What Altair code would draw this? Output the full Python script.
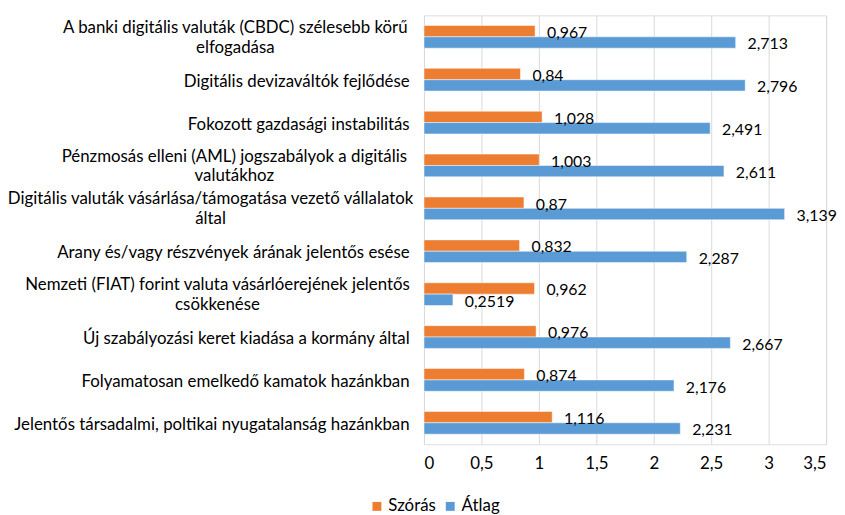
import altair as alt
import pandas as pd

categories = [
    "A banki digitális valuták (CBDC) szélesebb körű|elfogadása",
    "Digitális devizaváltók fejlődése",
    "Fokozott gazdasági instabilitás",
    "Pénzmosás elleni (AML) jogszabályok a digitális|valutákhoz",
    "Digitális valuták vásárlása/támogatása vezető vállalatok|által",
    "Arany és/vagy részvények árának jelentős esése",
    "Nemzeti (FIAT) forint valuta vásárlóerejének jelentős|csökkenése",
    "Új szabályozási keret kiadása a kormány által",
    "Folyamatosan emelkedő kamatok hazánkban",
    "Jelentős társadalmi, poltikai nyugatalanság hazánkban",
]
szoras = [0.967, 0.84, 1.028, 1.003, 0.87, 0.832, 0.962, 0.976, 0.874, 1.116]
atlag = [2.713, 2.796, 2.491, 2.611, 3.139, 2.287, 0.2519, 2.667, 2.176, 2.231]
series = ["Szórás", "Átlag"]
colors = ["#ED7D31", "#5B9BD5"]
x_ticks = [0, 0.5, 1, 1.5, 2, 2.5, 3, 3.5]

rows = []
for c, s, a in zip(categories, szoras, atlag):
    rows.append({"cat": c, "series": "Szórás", "value": s})
    rows.append({"cat": c, "series": "Átlag", "value": a})
df = pd.DataFrame(rows)

FONT = "Lato"

pad_map = {
    categories[0]: 191,
    categories[3]: 192,
    categories[4]: 216,
    categories[6]: 209,
}
pad_cond = [{"test": f"datum.value === '{k}'", "value": v} for k, v in pad_map.items()]
wrapped_test = "indexof(datum.value, '|') >= 0"

y_enc = alt.Y(
    "cat:N",
    sort=categories,
    scale=alt.Scale(paddingInner=0.47, paddingOuter=0.235),
    axis=alt.Axis(
        title=None,
        ticks=False,
        domain=True,
        domainColor="#d9d9d9",
        labelFont=FONT,
        labelFontSize=17,
        labelColor="#000000",
        labelLineHeight=20,
        labelLimit=0,
        labelExpr="split(datum.label, '|')",
        labelAlign={"condition": {"test": wrapped_test, "value": "center"}, "value": "right"},
        labelPadding={"condition": pad_cond, "value": 15},
        labelOffset={"condition": {"test": wrapped_test, "value": -9}, "value": 2},
    ),
)

x_enc = alt.X(
    "value:Q",
    scale=alt.Scale(domain=[0, 3.5], nice=False),
    axis=alt.Axis(
        title=None,
        values=x_ticks,
        format=".1~f",
        labelExpr="replace(datum.label, '.', ',')",
        domain=False,
        ticks=False,
        grid=True,
        gridColor="#d9d9d9",
        gridWidth=1,
        labelFont=FONT,
        labelFontSize=17,
        labelColor="#000000",
        labelPadding=12,
    ),
)

color_enc = alt.Color(
    "series:N",
    scale=alt.Scale(domain=series, range=colors),
    legend=alt.Legend(
        title=None,
        orient="none",
        legendX=-56,
        legendY=487,
        direction="horizontal",
        symbolType="square",
        symbolSize=81,
        symbolStrokeWidth=0,
        labelFont=FONT,
        labelFontSize=17,
        labelColor="#000000",
        columnPadding=6,
        labelOffset=3,
    ),
)

yoff = alt.YOffset("series:N", sort=series, scale=alt.Scale(domain=series, paddingInner=0, paddingOuter=0))

base = alt.Chart(df)

bars = base.mark_bar(stroke="#ffffff", strokeWidth=0.5).encode(
    x=x_enc, y=y_enc, yOffset=yoff, color=color_enc
)

labels = base.transform_calculate(
    lbl="replace(toString(datum.value), '.', ',')"
).mark_text(
    align="left", baseline="middle", dx=12, dy=2, font=FONT, fontSize=16, color="#000000"
).encode(
    x="value:Q",
    y=alt.Y("cat:N", sort=categories),
    yOffset=yoff,
    text="lbl:N",
)

chart = (
    alt.layer(bars, labels)
    .properties(
        width=406,
        height=433,
        autosize=alt.AutoSizeParams(type="none"),
        padding={"left": 420, "top": 5, "right": 11, "bottom": 69},
    )
    .configure_view(stroke=None)
    .configure(background="#ffffff", font=FONT)
)

chart.save("out.html", embed_options={"renderer": "svg", "actions": False})
